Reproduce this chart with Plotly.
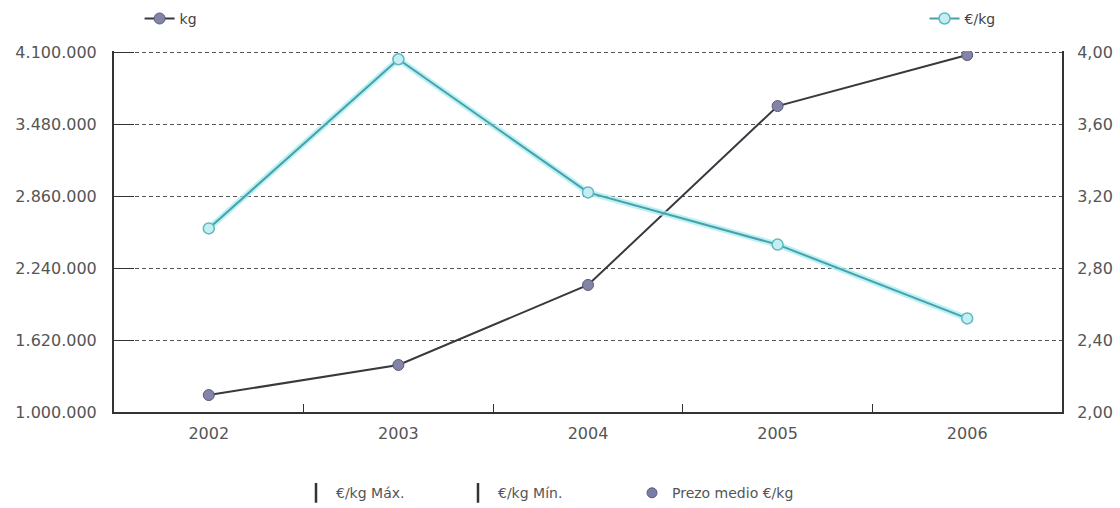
import plotly.graph_objects as go

years = ["2002", "2003", "2004", "2005", "2006"]
kg = [1146000, 1405000, 2094000, 3635000, 4074000]
eur_kg = [3.02, 3.96, 3.22, 2.93, 2.52]

left_ticks = [1000000, 1620000, 2240000, 2860000, 3480000, 4100000]
left_labels = ["1.000.000", "1.620.000", "2.240.000", "2.860.000", "3.480.000", "4.100.000"]
right_ticks = [2.0, 2.4, 2.8, 3.2, 3.6, 4.0]
right_labels = ["2,00", "2,40", "2,80", "3,20", "3,60", "4,00"]

font_family = "DejaVu Sans, Arial, sans-serif"
fig = go.Figure()

# €/kg glow underlay + line
fig.add_trace(go.Scatter(x=years, y=eur_kg, yaxis="y2", mode="lines",
                         line=dict(color="rgba(160,238,242,0.75)", width=6),
                         showlegend=False, hoverinfo="skip"))
fig.add_trace(go.Scatter(x=years, y=eur_kg, yaxis="y2", mode="lines+markers", name="€/kg",
                         line=dict(color="#4a9fa8", width=2),
                         marker=dict(size=11, color="#c4eef2", line=dict(color="#5cb8c2", width=1.5)),
                         legend="legend2"))
# kg line
fig.add_trace(go.Scatter(x=years, y=kg, mode="lines+markers", name="kg",
                         line=dict(color="#38383f", width=2),
                         marker=dict(size=11, color="#8484a8", line=dict(color="#5a5a78", width=1)),
                         legend="legend"))

# bottom legend items (no data)
fig.add_trace(go.Scatter(x=[None], y=[None], mode="markers", name="€/kg Máx.",
                         marker=dict(symbol="line-ns", size=14, line=dict(color="#333", width=2.5)),
                         legend="legend3"))
fig.add_trace(go.Scatter(x=[None], y=[None], mode="markers", name="€/kg Mín.",
                         marker=dict(symbol="line-ns", size=14, line=dict(color="#333", width=2.5)),
                         legend="legend3"))
fig.add_trace(go.Scatter(x=[None], y=[None], mode="markers", name="Prezo medio €/kg",
                         marker=dict(symbol="circle", size=10, color="#7c7ca8", line=dict(color="#5a5a78", width=1)),
                         legend="legend4"))

leg_font = dict(size=14, color="#444", family=font_family)
fig.update_layout(
    width=1120, height=508,
    margin=dict(l=114, r=58, t=51, b=96, autoexpand=False),
    paper_bgcolor="white", plot_bgcolor="white",
    font=dict(family=font_family, size=15, color="#555"),
    xaxis=dict(type="category", showline=True, linecolor="#333", linewidth=2,
               ticks="inside", tickson="boundaries", ticklen=8, tickcolor="#333",
               showgrid=False, tickfont=dict(size=16, color="#555"), ticklabelstandoff=6,
               range=[-0.5, 4.5]),
    yaxis=dict(range=[1000000, 4109000], tickvals=left_ticks, ticktext=left_labels,
               showline=True, linecolor="#333", linewidth=2,
               ticks="inside", ticklen=20, tickcolor="#333",
               showgrid=True, gridcolor="#555", griddash="4px,3px", gridwidth=1,
               zeroline=False, tickfont=dict(size=16, color="#555"), ticklabelstandoff=12),
    yaxis2=dict(range=[2.0, 2.0 + 2.0 * 3109000 / 3100000], tickvals=right_ticks, ticktext=right_labels,
                overlaying="y", side="right", showline=True, linecolor="#333", linewidth=2,
                showgrid=False, zeroline=False, ticks="", tickfont=dict(size=16, color="#555"),
                ticklabelstandoff=10),
    legend=dict(x=0.027, y=1.089, xanchor="left", yanchor="middle", orientation="h",
                font=leg_font, bgcolor="rgba(0,0,0,0)"),
    legend2=dict(x=0.855, y=1.089, xanchor="left", yanchor="middle", orientation="h",
                 font=leg_font, bgcolor="rgba(0,0,0,0)"),
    legend3=dict(x=(296 - 114) / 948, y=-0.225, xanchor="left", yanchor="middle", orientation="h",
                 font=dict(size=14, color="#555", family=font_family), bgcolor="rgba(0,0,0,0)",
                 itemwidth=30, entrywidth=117),
    legend4=dict(x=(632 - 114) / 948, y=-0.225, xanchor="left", yanchor="middle", orientation="h",
                 font=dict(size=14, color="#555", family=font_family), bgcolor="rgba(0,0,0,0)",
                 itemwidth=30),
)

fig.write_html("out.html", config={"displayModeBar": False},
               post_script="document.body.style.margin='0';document.body.style.overflow='hidden';")
